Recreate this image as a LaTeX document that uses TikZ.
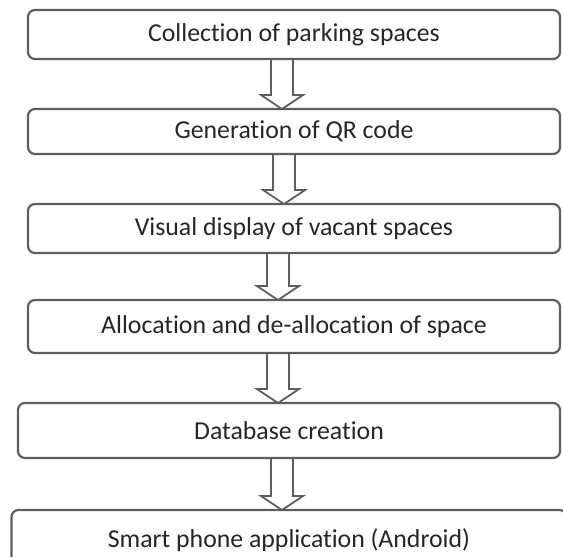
\documentclass[tikz,border=0pt]{standalone}
\usepackage{fontspec}
\setmainfont[Ligatures=NoCommon]{Carlito}
\usepackage{xcolor}
\usepackage{tikz}
\usetikzlibrary{positioning}
\definecolor{boxline}{HTML}{5E5E5E}
\definecolor{boxtext}{HTML}{262626}
\tikzset{
	stepbox/.style={draw=boxline, line width=2.2pt, rounded corners=7pt, fill=white, text=boxtext, font=\fontsize{25.8}{30}\selectfont, inner sep=0pt, outer sep=0pt, minimum width=532pt},
	flowarrow/.style={draw=boxline, line width=1.8pt, line join=miter}
}
\newcommand{\connectsteps}[3]{
	\path (#2.south) ++(#1pt,0pt) coordinate (arrowtop);
	\path (arrowtop |- #3.north) coordinate (arrowtip);
	\draw[flowarrow] ([xshift=-11pt]arrowtop) -- ([xshift=-11pt, yshift=14pt]arrowtip) -- ([xshift=-21pt, yshift=14pt]arrowtip) -- (arrowtip) -- ([xshift=21pt, yshift=14pt]arrowtip) -- ([xshift=11pt, yshift=14pt]arrowtip) -- ([xshift=11pt]arrowtop);
}

\begin{document}
\begin{tikzpicture}[x=1pt, y=-1pt]
	\useasboundingbox (0,0) rectangle (563,557);
	\clip (0,0) rectangle (563,557);

	% steps of the system are drawn
	\node[stepbox, minimum height=49pt] (collection) at (294,34.5) {Collection of parking spaces};
	\node[stepbox, minimum height=45pt, below=50pt of collection] (qrcode) {Generation of QR code};
	\node[stepbox, minimum height=49pt, below=50pt of qrcode] (display) {Visual display of vacant spaces};
	\node[stepbox, minimum height=53pt, below=47pt of display] (allocation) {Allocation and de-allocation of space};
	\node[stepbox, minimum width=542pt, minimum height=55pt, below=50pt of allocation, xshift=-5pt] (database) {Database creation};
	\node[stepbox, minimum width=555pt, minimum height=60pt, below=52pt of database] (android) {Smart phone application (Android)};

	% arrows between the steps are drawn
	\connectsteps{-12}{collection}{qrcode};
	\connectsteps{-10}{qrcode}{display};
	\connectsteps{-16}{display}{allocation};
	\connectsteps{-16}{allocation}{database};
	\connectsteps{-7}{database}{android};
\end{tikzpicture}
\end{document}
